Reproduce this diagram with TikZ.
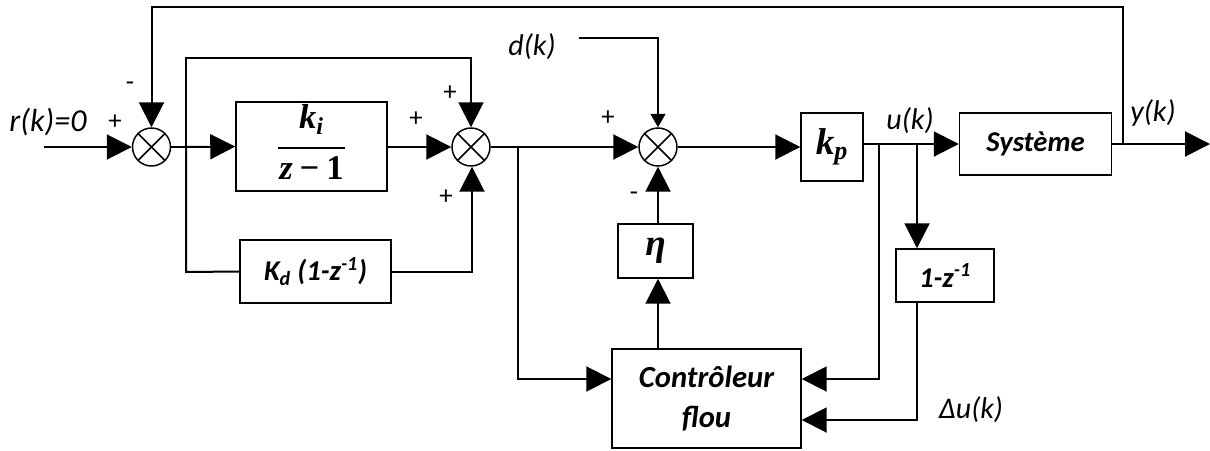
\documentclass[tikz,border=0pt]{standalone}
\usepackage{fontspec}
\setmainfont{Carlito}
\newfontfamily\mfont{Liberation Serif}
\usetikzlibrary{arrows.meta}
\tikzset{
  blk/.style={draw,line width=1.1pt,inner sep=0pt,align=center,font=\fontsize{21.5}{27}\selectfont\bfseries\itshape},
  sumj/.style={draw,circle,line width=1.1pt,minimum size=28.5pt,inner sep=0pt},
  wire/.style={line width=1.5pt},
  arr/.style={wire,-{Triangle[length=18.75pt,width=18.75pt]}},
  sarr/.style={wire,-{Triangle[length=10pt,width=11pt]}},
  lab/.style={font=\fontsize{22.5}{26}\selectfont\itshape,inner sep=0pt},
  sgn/.style={font=\fontsize{20}{24}\selectfont,inner sep=0pt}
}
\begin{document}
\begin{tikzpicture}[x=0.75pt,y=-0.75pt]
\useasboundingbox (0,0) rectangle (1210,450);
\node[sumj] (s1) at (151.5,147) {};
\node[sumj] (s2) at (471,147) {};
\node[sumj] (s3) at (658,147) {};
\draw[line width=1.1pt] (s1.north east)--(s1.south west) (s1.north west)--(s1.south east);
\draw[line width=1.1pt] (s2.north east)--(s2.south west) (s2.north west)--(s2.south east);
\draw[line width=1.1pt] (s3.north east)--(s3.south west) (s3.north west)--(s3.south east);
\node[blk,minimum width=113.25pt,minimum height=66.75pt] (ki) at (311.5,146.5) {\mfont\fontsize{26}{28}\selectfont\setlength\arrayrulewidth{1.6pt}\begin{tabular}{@{\hspace{1pt}}c@{\hspace{1pt}}}\rule{0pt}{18pt}\bfseries\itshape k\textsubscript{i}\\[5pt]\hline\rule{0pt}{23pt}\bfseries\itshape z\hspace{0.2em}\upshape−\hspace{0.2em}1\end{tabular}};
\node[blk,minimum width=113.25pt,minimum height=47.25pt] (kd) at (315.5,271.5) {K\textsubscript{d} (1-z\textsuperscript{-1})};
\node[blk,minimum width=56.25pt,minimum height=40.5pt] (eta) at (655.5,251) {\mfont\fontsize{28}{30}\selectfont η};
\node[blk,minimum width=46.5pt,minimum height=51pt] (kp) at (832,147) {\mfont\fontsize{28}{30}\selectfont k\textsubscript{p}};
\node[blk,minimum width=114pt,minimum height=46.5pt] (sys) at (1035.5,144) {Système};
\node[blk,minimum width=73.5pt,minimum height=39.75pt] (dz) at (945,275.5) {1-z\textsuperscript{-1}};
\node[blk,font=\fontsize{23}{30}\selectfont\bfseries\itshape,minimum width=141.75pt,minimum height=74.25pt] (ctrl) at (706.5,398.5) {Contrôleur\\flou};
\node[lab,font=\fontsize{24}{26}\selectfont\itshape] (lr) at (48,122) {r(k)=0};
\node[lab] (ld) at (532,47) {d(k)};
\node[lab] (lu) at (910,121) {u(k)};
\node[lab] (ly) at (1153,113) {y(k)};
\node[lab] (ldu) at (971,410) {Δu(k)};
\node[sgn] (p1) at (115,122) {+};
\node[sgn] (m1) at (130,86) {-};
\node[sgn] (p2a) at (450,93) {+};
\node[sgn] (p2b) at (416,119) {+};
\node[sgn] (p2c) at (446,197) {+};
\node[sgn] (p3) at (608,118) {+};
\node[sgn] (m3) at (634,196) {-};
\coordinate (in) at (44,147);
\coordinate (b1) at (186,147);
\coordinate (b1t) at (186,58);
\coordinate (b1b) at (186,272);
\coordinate (b2) at (518,147);
\coordinate (b2b) at (518,379);
\coordinate (dst) at (579,38);
\coordinate (dc) at (658,38);
\coordinate (b3) at (879,144);
\coordinate (b3b) at (879,379);
\coordinate (b4) at (917,144);
\coordinate (dzb) at (917,420);
\coordinate (yj) at (1123,144);
\coordinate (yt) at (1123,7);
\coordinate (ft) at (151.5,7);
\coordinate (out) at (1210,144);
\coordinate (kdr) at (472,272);
\draw[arr] (in) -- (s1.west);
\draw[arr] (yj) -- (yt) -- (ft) -- (s1.north);
\draw[wire] (s1.east) -- (b1);
\draw[arr] (b1) -- (ki.west);
\draw[arr] (b1) -- (b1t) -- (b1t -| s2.north) -- (s2.north);
\draw[wire] (b1) -- (b1b) -- (kd.west);
\draw[arr] (ki.east |- s2.west) -- (s2.west);
\draw[arr] (kd.east |- kdr) -- (kdr) -- (kdr |- s2.south);
\draw[arr] (s2.east) -- (s3.west);
\draw[arr] (b2) -- (b2b) -- (b2b -| ctrl.west);
\draw[sarr] (dst) -- (dc) -- (s3.north);
\draw[arr] (eta.north -| s3.south) -- (s3.south);
\draw[arr] (ctrl.north -| s3.south) -- (eta.south -| s3.south);
\draw[arr] (s3.east) -- (kp.west);
\draw[arr] (kp.east |- sys.west) -- (sys.west);
\draw[arr] (b4) -- (b4 |- dz.north);
\draw[arr] (b3) -- (b3b) -- (b3b -| ctrl.east);
\draw[arr] (b4 |- dz.south) -- (dzb) -- (dzb -| ctrl.east);
\draw[arr] (sys.east) -- (out);
\end{tikzpicture}
\end{document}
